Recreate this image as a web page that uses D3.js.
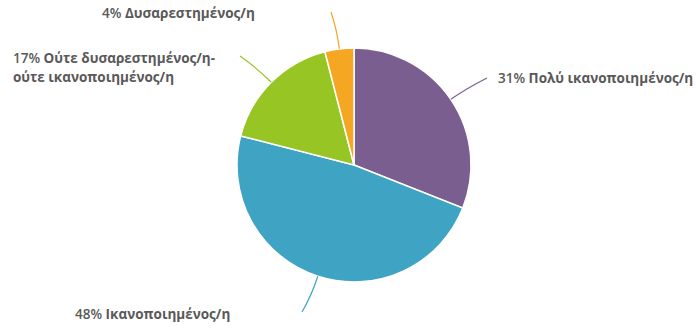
<!DOCTYPE html>
<html>
<head>
<meta charset="utf-8">
<script src="https://cdn.jsdelivr.net/npm/d3@7"></script>
<style>
  html, body { margin: 0; padding: 0; background: #fff; }
  svg { display: block; }
  text { font-family: "Open Sans", "Noto Sans", sans-serif; font-size: 13.5px; fill: #595959; }
  .pct { font-weight: 600; }
  .name { font-weight: 700; }
</style>
</head>
<body>
<svg id="chart" width="696" height="330"></svg>
<script>
// Satisfaction survey shares, clockwise from 12 o'clock
const categories = ["Πολύ ικανοποιημένος/η", "Ικανοποιημένος/η", "Ούτε δυσαρεστημένος/η-ούτε ικανοποιημένος/η", "Δυσαρεστημένος/η"];
const values = [31, 48, 17, 4];
const colors = ["#7B5E90", "#3FA3C4", "#97C523", "#F5A623"];

const width = 696, height = 330;
const cx = 354, cy = 165, radius = 117;

const svg = d3.select("#chart");
const g = svg.append("g").attr("transform", `translate(${cx},${cy})`);

const pie = d3.pie().sort(null).value(d => d.value);
const arc = d3.arc().innerRadius(0).outerRadius(radius);

const data = categories.map((c, i) => ({ name: c, value: values[i], color: colors[i] }));
const arcs = pie(data);

g.selectAll("path.slice")
  .data(arcs)
  .enter().append("path")
  .attr("class", "slice")
  .attr("d", arc)
  .attr("fill", d => d.data.color)
  .attr("stroke", "#fff")
  .attr("stroke-width", 1.5);

// Label placement per slice: where the leader ends, text anchor and lines
const labelLayout = [
  { end: [487, 78], anchor: "start", x: 498, y: [83], lines: ["Πολύ ικανοποιημένος/η"] },
  { end: [302, 312], anchor: "start", x: 75, y: [319], lines: ["Ικανοποιημένος/η"] },
  { end: [240, 56], anchor: "start", x: 13, y: [63, 82], lines: ["Ούτε δυσαρεστημένος/η-", "ούτε ικανοποιημένος/η"] },
  { end: [331, 12], anchor: "start", x: 102, y: [18], lines: ["Δυσαρεστημένος/η"] }
];

const total = d3.sum(values);

arcs.forEach((a, i) => {
  const mid = (a.startAngle + a.endAngle) / 2;
  const dx = Math.sin(mid), dy = -Math.cos(mid);
  const sx = cx + radius * dx, sy = cy + radius * dy;
  const kx = cx + (radius + 20) * dx, ky = cy + (radius + 20) * dy;
  const L = labelLayout[i];
  const p = d3.path();
  p.moveTo(sx, sy);
  p.quadraticCurveTo(kx, ky, L.end[0], L.end[1]);
  svg.append("path")
    .attr("d", p.toString())
    .attr("fill", "none")
    .attr("stroke", a.data.color)
    .attr("stroke-width", 1.2);

  const pct = Math.round(a.data.value / total * 100) + "%";
  L.lines.forEach((str, k) => {
    const t = svg.append("text")
      .attr("x", L.x)
      .attr("y", L.y[k])
      .attr("text-anchor", L.anchor);
    if (k === 0) {
      t.append("tspan").attr("class", "pct").text(pct + " ");
    }
    t.append("tspan").attr("class", "name").text(str);
  });
});
</script>
</body>
</html>
